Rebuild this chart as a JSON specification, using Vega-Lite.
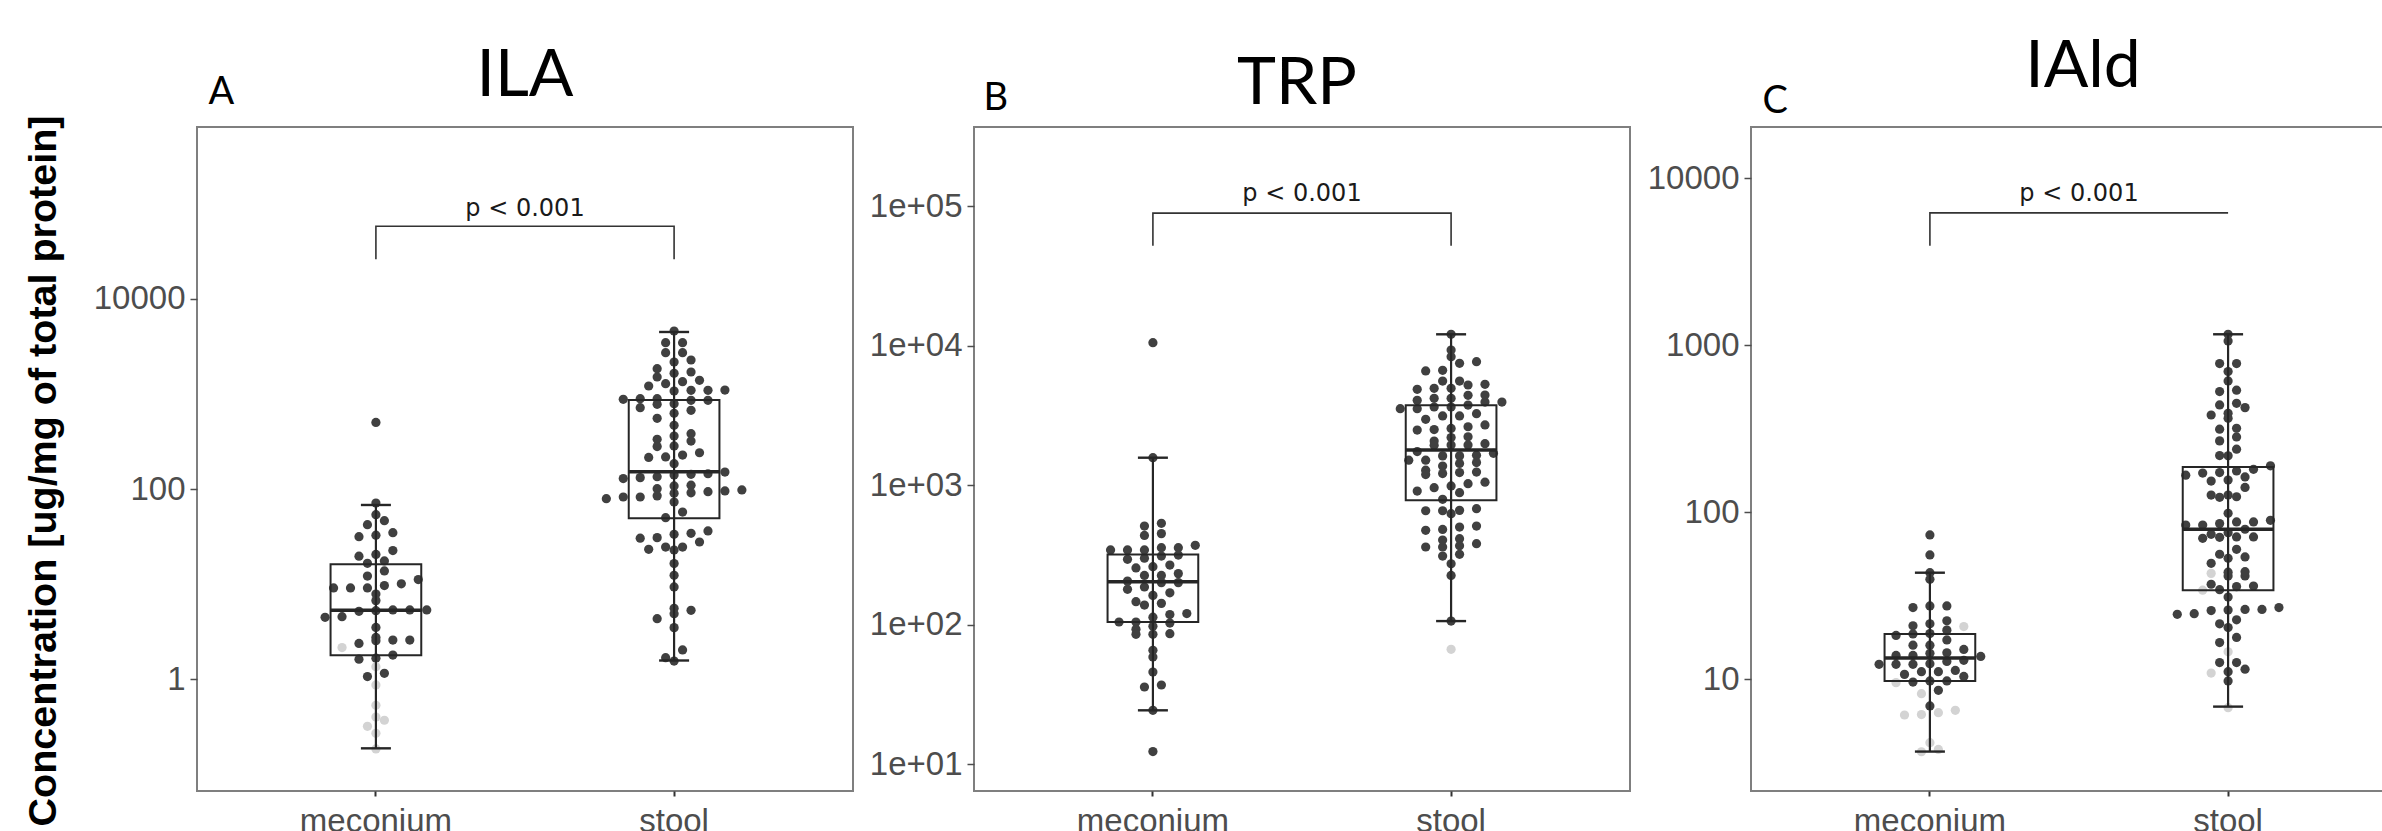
{
  "$schema": "https://vega.github.io/schema/vega-lite/v6.json",
  "background": "white",
  "padding": {"left": 21, "top": 33, "right": 0, "bottom": 0},
  "config": {
    "view": {"stroke": "#7f7f7f", "strokeWidth": 2},
    "axis": {"labelFont": "Liberation Sans", "labelFontSize": 33, "labelColor": "#4d4d4d", "grid": false, "domain": false},
    "axisY": {"tickSize": 7, "tickColor": "#4d4d4d", "tickWidth": 1.5, "labelPadding": 5},
    "axisX": {"tickSize": 5, "tickColor": "#333333", "tickWidth": 2, "labelPadding": 9, "labelAngle": 0},
    "title": {"font": "Lato", "fontSize": 66, "fontWeight": "normal", "color": "#000000", "baseline": "alphabetic"}
  },
  "datasets": {
    "dots": [
      {"panel": "ILA", "group": "meconium", "status": "detected", "value": 502},
      {"panel": "ILA", "group": "meconium", "status": "detected", "value": 71.3},
      {"panel": "ILA", "group": "meconium", "status": "detected", "value": 53.8},
      {"panel": "ILA", "group": "meconium", "status": "detected", "value": 46.6},
      {"panel": "ILA", "group": "meconium", "status": "detected", "value": 42.3},
      {"panel": "ILA", "group": "meconium", "status": "detected", "value": 34.8},
      {"panel": "ILA", "group": "meconium", "status": "detected", "value": 32.8},
      {"panel": "ILA", "group": "meconium", "status": "detected", "value": 31.6},
      {"panel": "ILA", "group": "meconium", "status": "detected", "value": 22.6},
      {"panel": "ILA", "group": "meconium", "status": "detected", "value": 20.6},
      {"panel": "ILA", "group": "meconium", "status": "detected", "value": 19.7},
      {"panel": "ILA", "group": "meconium", "status": "detected", "value": 17.6},
      {"panel": "ILA", "group": "meconium", "status": "detected", "value": 16.6},
      {"panel": "ILA", "group": "meconium", "status": "detected", "value": 13.8},
      {"panel": "ILA", "group": "meconium", "status": "detected", "value": 12.2},
      {"panel": "ILA", "group": "meconium", "status": "detected", "value": 11.2},
      {"panel": "ILA", "group": "meconium", "status": "detected", "value": 10.1},
      {"panel": "ILA", "group": "meconium", "status": "detected", "value": 9.68},
      {"panel": "ILA", "group": "meconium", "status": "detected", "value": 9.15},
      {"panel": "ILA", "group": "meconium", "status": "detected", "value": 9.15},
      {"panel": "ILA", "group": "meconium", "status": "detected", "value": 9.15},
      {"panel": "ILA", "group": "meconium", "status": "detected", "value": 7.9},
      {"panel": "ILA", "group": "meconium", "status": "detected", "value": 6.73},
      {"panel": "ILA", "group": "meconium", "status": "detected", "value": 5.37},
      {"panel": "ILA", "group": "meconium", "status": "detected", "value": 5.37},
      {"panel": "ILA", "group": "meconium", "status": "detected", "value": 5.37},
      {"panel": "ILA", "group": "meconium", "status": "detected", "value": 5.19},
      {"panel": "ILA", "group": "meconium", "status": "detected", "value": 5.27},
      {"panel": "ILA", "group": "meconium", "status": "detected", "value": 4.56},
      {"panel": "ILA", "group": "meconium", "status": "detected", "value": 4.49},
      {"panel": "ILA", "group": "meconium", "status": "detected", "value": 3.52},
      {"panel": "ILA", "group": "meconium", "status": "detected", "value": 2.76},
      {"panel": "ILA", "group": "meconium", "status": "detected", "value": 2.59},
      {"panel": "ILA", "group": "meconium", "status": "detected", "value": 2.59},
      {"panel": "ILA", "group": "meconium", "status": "detected", "value": 2.55},
      {"panel": "ILA", "group": "meconium", "status": "detected", "value": 2.39},
      {"panel": "ILA", "group": "meconium", "status": "detected", "value": 1.8},
      {"panel": "ILA", "group": "meconium", "status": "detected", "value": 1.67},
      {"panel": "ILA", "group": "meconium", "status": "detected", "value": 1.63},
      {"panel": "ILA", "group": "meconium", "status": "detected", "value": 1.16},
      {"panel": "ILA", "group": "meconium", "status": "detected", "value": 1.07},
      {"panel": "ILA", "group": "meconium", "status": "not detected", "value": 2.16},
      {"panel": "ILA", "group": "meconium", "status": "not detected", "value": 1.36},
      {"panel": "ILA", "group": "meconium", "status": "not detected", "value": 0.875},
      {"panel": "ILA", "group": "meconium", "status": "not detected", "value": 0.535},
      {"panel": "ILA", "group": "meconium", "status": "not detected", "value": 0.402},
      {"panel": "ILA", "group": "meconium", "status": "not detected", "value": 0.372},
      {"panel": "ILA", "group": "meconium", "status": "not detected", "value": 0.321},
      {"panel": "ILA", "group": "meconium", "status": "not detected", "value": 0.271},
      {"panel": "ILA", "group": "meconium", "status": "not detected", "value": 0.186},
      {"panel": "ILA", "group": "stool", "status": "detected", "value": 4588},
      {"panel": "ILA", "group": "stool", "status": "detected", "value": 3459},
      {"panel": "ILA", "group": "stool", "status": "detected", "value": 3459},
      {"panel": "ILA", "group": "stool", "status": "detected", "value": 2716},
      {"panel": "ILA", "group": "stool", "status": "detected", "value": 2716},
      {"panel": "ILA", "group": "stool", "status": "detected", "value": 2274},
      {"panel": "ILA", "group": "stool", "status": "detected", "value": 2167},
      {"panel": "ILA", "group": "stool", "status": "detected", "value": 1701},
      {"panel": "ILA", "group": "stool", "status": "detected", "value": 1647},
      {"panel": "ILA", "group": "stool", "status": "detected", "value": 1844},
      {"panel": "ILA", "group": "stool", "status": "detected", "value": 1346},
      {"panel": "ILA", "group": "stool", "status": "detected", "value": 1212},
      {"panel": "ILA", "group": "stool", "status": "detected", "value": 1390},
      {"panel": "ILA", "group": "stool", "status": "detected", "value": 1283},
      {"panel": "ILA", "group": "stool", "status": "detected", "value": 1507},
      {"panel": "ILA", "group": "stool", "status": "detected", "value": 1100},
      {"panel": "ILA", "group": "stool", "status": "detected", "value": 1092},
      {"panel": "ILA", "group": "stool", "status": "detected", "value": 1074},
      {"panel": "ILA", "group": "stool", "status": "detected", "value": 1092},
      {"panel": "ILA", "group": "stool", "status": "detected", "value": 892},
      {"panel": "ILA", "group": "stool", "status": "detected", "value": 857},
      {"panel": "ILA", "group": "stool", "status": "detected", "value": 857},
      {"panel": "ILA", "group": "stool", "status": "detected", "value": 790},
      {"panel": "ILA", "group": "stool", "status": "detected", "value": 879},
      {"panel": "ILA", "group": "stool", "status": "detected", "value": 892},
      {"panel": "ILA", "group": "stool", "status": "detected", "value": 717},
      {"panel": "ILA", "group": "stool", "status": "detected", "value": 626},
      {"panel": "ILA", "group": "stool", "status": "detected", "value": 673},
      {"panel": "ILA", "group": "stool", "status": "detected", "value": 778},
      {"panel": "ILA", "group": "stool", "status": "detected", "value": 554},
      {"panel": "ILA", "group": "stool", "status": "detected", "value": 468},
      {"panel": "ILA", "group": "stool", "status": "detected", "value": 382},
      {"panel": "ILA", "group": "stool", "status": "detected", "value": 361},
      {"panel": "ILA", "group": "stool", "status": "detected", "value": 334},
      {"panel": "ILA", "group": "stool", "status": "detected", "value": 320},
      {"panel": "ILA", "group": "stool", "status": "detected", "value": 284},
      {"panel": "ILA", "group": "stool", "status": "detected", "value": 280},
      {"panel": "ILA", "group": "stool", "status": "detected", "value": 228},
      {"panel": "ILA", "group": "stool", "status": "detected", "value": 218},
      {"panel": "ILA", "group": "stool", "status": "detected", "value": 185},
      {"panel": "ILA", "group": "stool", "status": "detected", "value": 215},
      {"panel": "ILA", "group": "stool", "status": "detected", "value": 241},
      {"panel": "ILA", "group": "stool", "status": "detected", "value": 145},
      {"panel": "ILA", "group": "stool", "status": "detected", "value": 135},
      {"panel": "ILA", "group": "stool", "status": "detected", "value": 132},
      {"panel": "ILA", "group": "stool", "status": "detected", "value": 141},
      {"panel": "ILA", "group": "stool", "status": "detected", "value": 129},
      {"panel": "ILA", "group": "stool", "status": "detected", "value": 143},
      {"panel": "ILA", "group": "stool", "status": "detected", "value": 151},
      {"panel": "ILA", "group": "stool", "status": "detected", "value": 110},
      {"panel": "ILA", "group": "stool", "status": "detected", "value": 97.9},
      {"panel": "ILA", "group": "stool", "status": "detected", "value": 108},
      {"panel": "ILA", "group": "stool", "status": "detected", "value": 101},
      {"panel": "ILA", "group": "stool", "status": "detected", "value": 94},
      {"panel": "ILA", "group": "stool", "status": "detected", "value": 90.3},
      {"panel": "ILA", "group": "stool", "status": "detected", "value": 82.6},
      {"panel": "ILA", "group": "stool", "status": "detected", "value": 82.6},
      {"panel": "ILA", "group": "stool", "status": "detected", "value": 73.2},
      {"panel": "ILA", "group": "stool", "status": "detected", "value": 79.3},
      {"panel": "ILA", "group": "stool", "status": "detected", "value": 84.9},
      {"panel": "ILA", "group": "stool", "status": "detected", "value": 91.5},
      {"panel": "ILA", "group": "stool", "status": "detected", "value": 95.6},
      {"panel": "ILA", "group": "stool", "status": "detected", "value": 57.4},
      {"panel": "ILA", "group": "stool", "status": "detected", "value": 50.1},
      {"panel": "ILA", "group": "stool", "status": "detected", "value": 30.9},
      {"panel": "ILA", "group": "stool", "status": "detected", "value": 24.6},
      {"panel": "ILA", "group": "stool", "status": "detected", "value": 33.5},
      {"panel": "ILA", "group": "stool", "status": "detected", "value": 30.5},
      {"panel": "ILA", "group": "stool", "status": "detected", "value": 34.3},
      {"panel": "ILA", "group": "stool", "status": "detected", "value": 24.6},
      {"panel": "ILA", "group": "stool", "status": "detected", "value": 27.8},
      {"panel": "ILA", "group": "stool", "status": "detected", "value": 36.3},
      {"panel": "ILA", "group": "stool", "status": "detected", "value": 23.3},
      {"panel": "ILA", "group": "stool", "status": "detected", "value": 22.9},
      {"panel": "ILA", "group": "stool", "status": "detected", "value": 16.5},
      {"panel": "ILA", "group": "stool", "status": "detected", "value": 12.4},
      {"panel": "ILA", "group": "stool", "status": "detected", "value": 9.36},
      {"panel": "ILA", "group": "stool", "status": "detected", "value": 5.32},
      {"panel": "ILA", "group": "stool", "status": "detected", "value": 4.91},
      {"panel": "ILA", "group": "stool", "status": "detected", "value": 4.35},
      {"panel": "ILA", "group": "stool", "status": "detected", "value": 5.58},
      {"panel": "ILA", "group": "stool", "status": "detected", "value": 3.5},
      {"panel": "ILA", "group": "stool", "status": "detected", "value": 2.04},
      {"panel": "ILA", "group": "stool", "status": "detected", "value": 1.56},
      {"panel": "ILA", "group": "stool", "status": "detected", "value": 1.69},
      {"panel": "TRP", "group": "meconium", "status": "detected", "value": 10490},
      {"panel": "TRP", "group": "meconium", "status": "detected", "value": 1573},
      {"panel": "TRP", "group": "meconium", "status": "detected", "value": 532},
      {"panel": "TRP", "group": "meconium", "status": "detected", "value": 509},
      {"panel": "TRP", "group": "meconium", "status": "detected", "value": 449},
      {"panel": "TRP", "group": "meconium", "status": "detected", "value": 436},
      {"panel": "TRP", "group": "meconium", "status": "detected", "value": 370},
      {"panel": "TRP", "group": "meconium", "status": "detected", "value": 356},
      {"panel": "TRP", "group": "meconium", "status": "detected", "value": 343},
      {"panel": "TRP", "group": "meconium", "status": "detected", "value": 356},
      {"panel": "TRP", "group": "meconium", "status": "detected", "value": 343},
      {"panel": "TRP", "group": "meconium", "status": "detected", "value": 343},
      {"panel": "TRP", "group": "meconium", "status": "detected", "value": 299},
      {"panel": "TRP", "group": "meconium", "status": "detected", "value": 310},
      {"panel": "TRP", "group": "meconium", "status": "detected", "value": 294},
      {"panel": "TRP", "group": "meconium", "status": "detected", "value": 315},
      {"panel": "TRP", "group": "meconium", "status": "detected", "value": 260},
      {"panel": "TRP", "group": "meconium", "status": "detected", "value": 255},
      {"panel": "TRP", "group": "meconium", "status": "detected", "value": 267},
      {"panel": "TRP", "group": "meconium", "status": "detected", "value": 225},
      {"panel": "TRP", "group": "meconium", "status": "detected", "value": 232},
      {"panel": "TRP", "group": "meconium", "status": "detected", "value": 225},
      {"panel": "TRP", "group": "meconium", "status": "detected", "value": 205},
      {"panel": "TRP", "group": "meconium", "status": "detected", "value": 186},
      {"panel": "TRP", "group": "meconium", "status": "detected", "value": 200},
      {"panel": "TRP", "group": "meconium", "status": "detected", "value": 200},
      {"panel": "TRP", "group": "meconium", "status": "detected", "value": 179},
      {"panel": "TRP", "group": "meconium", "status": "detected", "value": 162},
      {"panel": "TRP", "group": "meconium", "status": "detected", "value": 169},
      {"panel": "TRP", "group": "meconium", "status": "detected", "value": 142},
      {"panel": "TRP", "group": "meconium", "status": "detected", "value": 138},
      {"panel": "TRP", "group": "meconium", "status": "detected", "value": 146},
      {"panel": "TRP", "group": "meconium", "status": "detected", "value": 118},
      {"panel": "TRP", "group": "meconium", "status": "detected", "value": 120},
      {"panel": "TRP", "group": "meconium", "status": "detected", "value": 113},
      {"panel": "TRP", "group": "meconium", "status": "detected", "value": 104.4},
      {"panel": "TRP", "group": "meconium", "status": "detected", "value": 97.2},
      {"panel": "TRP", "group": "meconium", "status": "detected", "value": 102.6},
      {"panel": "TRP", "group": "meconium", "status": "detected", "value": 104.4},
      {"panel": "TRP", "group": "meconium", "status": "detected", "value": 92.5},
      {"panel": "TRP", "group": "meconium", "status": "detected", "value": 86.1},
      {"panel": "TRP", "group": "meconium", "status": "detected", "value": 85.2},
      {"panel": "TRP", "group": "meconium", "status": "detected", "value": 85.2},
      {"panel": "TRP", "group": "meconium", "status": "detected", "value": 65.4},
      {"panel": "TRP", "group": "meconium", "status": "detected", "value": 58.6},
      {"panel": "TRP", "group": "meconium", "status": "detected", "value": 45.7},
      {"panel": "TRP", "group": "meconium", "status": "detected", "value": 35.7},
      {"panel": "TRP", "group": "meconium", "status": "detected", "value": 36.9},
      {"panel": "TRP", "group": "meconium", "status": "detected", "value": 24.3},
      {"panel": "TRP", "group": "meconium", "status": "detected", "value": 12.3},
      {"panel": "TRP", "group": "stool", "status": "detected", "value": 12050},
      {"panel": "TRP", "group": "stool", "status": "detected", "value": 9300},
      {"panel": "TRP", "group": "stool", "status": "detected", "value": 8330},
      {"panel": "TRP", "group": "stool", "status": "detected", "value": 7460},
      {"panel": "TRP", "group": "stool", "status": "detected", "value": 7670},
      {"panel": "TRP", "group": "stool", "status": "detected", "value": 6580},
      {"panel": "TRP", "group": "stool", "status": "detected", "value": 6650},
      {"panel": "TRP", "group": "stool", "status": "detected", "value": 4940},
      {"panel": "TRP", "group": "stool", "status": "detected", "value": 4940},
      {"panel": "TRP", "group": "stool", "status": "detected", "value": 5220},
      {"panel": "TRP", "group": "stool", "status": "detected", "value": 4860},
      {"panel": "TRP", "group": "stool", "status": "detected", "value": 5280},
      {"panel": "TRP", "group": "stool", "status": "detected", "value": 5570},
      {"panel": "TRP", "group": "stool", "status": "detected", "value": 5570},
      {"panel": "TRP", "group": "stool", "status": "detected", "value": 4190},
      {"panel": "TRP", "group": "stool", "status": "detected", "value": 3940},
      {"panel": "TRP", "group": "stool", "status": "detected", "value": 4190},
      {"panel": "TRP", "group": "stool", "status": "detected", "value": 4400},
      {"panel": "TRP", "group": "stool", "status": "detected", "value": 4420},
      {"panel": "TRP", "group": "stool", "status": "detected", "value": 4050},
      {"panel": "TRP", "group": "stool", "status": "detected", "value": 3630},
      {"panel": "TRP", "group": "stool", "status": "detected", "value": 3530},
      {"panel": "TRP", "group": "stool", "status": "detected", "value": 3530},
      {"panel": "TRP", "group": "stool", "status": "detected", "value": 3750},
      {"panel": "TRP", "group": "stool", "status": "detected", "value": 3940},
      {"panel": "TRP", "group": "stool", "status": "detected", "value": 3630},
      {"panel": "TRP", "group": "stool", "status": "detected", "value": 2960},
      {"panel": "TRP", "group": "stool", "status": "detected", "value": 3130},
      {"panel": "TRP", "group": "stool", "status": "detected", "value": 3130},
      {"panel": "TRP", "group": "stool", "status": "detected", "value": 3250},
      {"panel": "TRP", "group": "stool", "status": "detected", "value": 2550},
      {"panel": "TRP", "group": "stool", "status": "detected", "value": 2620},
      {"panel": "TRP", "group": "stool", "status": "detected", "value": 2480},
      {"panel": "TRP", "group": "stool", "status": "detected", "value": 2500},
      {"panel": "TRP", "group": "stool", "status": "detected", "value": 2700},
      {"panel": "TRP", "group": "stool", "status": "detected", "value": 2220},
      {"panel": "TRP", "group": "stool", "status": "detected", "value": 2190},
      {"panel": "TRP", "group": "stool", "status": "detected", "value": 2070},
      {"panel": "TRP", "group": "stool", "status": "detected", "value": 1980},
      {"panel": "TRP", "group": "stool", "status": "detected", "value": 1930},
      {"panel": "TRP", "group": "stool", "status": "detected", "value": 1940},
      {"panel": "TRP", "group": "stool", "status": "detected", "value": 1940},
      {"panel": "TRP", "group": "stool", "status": "detected", "value": 1620},
      {"panel": "TRP", "group": "stool", "status": "detected", "value": 1640},
      {"panel": "TRP", "group": "stool", "status": "detected", "value": 1740},
      {"panel": "TRP", "group": "stool", "status": "detected", "value": 1510},
      {"panel": "TRP", "group": "stool", "status": "detected", "value": 1510},
      {"panel": "TRP", "group": "stool", "status": "detected", "value": 1620},
      {"panel": "TRP", "group": "stool", "status": "detected", "value": 1690},
      {"panel": "TRP", "group": "stool", "status": "detected", "value": 1370},
      {"panel": "TRP", "group": "stool", "status": "detected", "value": 1450},
      {"panel": "TRP", "group": "stool", "status": "detected", "value": 1430},
      {"panel": "TRP", "group": "stool", "status": "detected", "value": 1280},
      {"panel": "TRP", "group": "stool", "status": "detected", "value": 1230},
      {"panel": "TRP", "group": "stool", "status": "detected", "value": 1190},
      {"panel": "TRP", "group": "stool", "status": "detected", "value": 1210},
      {"panel": "TRP", "group": "stool", "status": "detected", "value": 1240},
      {"panel": "TRP", "group": "stool", "status": "detected", "value": 1050},
      {"panel": "TRP", "group": "stool", "status": "detected", "value": 959},
      {"panel": "TRP", "group": "stool", "status": "detected", "value": 907},
      {"panel": "TRP", "group": "stool", "status": "detected", "value": 1024},
      {"panel": "TRP", "group": "stool", "status": "detected", "value": 883},
      {"panel": "TRP", "group": "stool", "status": "detected", "value": 986},
      {"panel": "TRP", "group": "stool", "status": "detected", "value": 791},
      {"panel": "TRP", "group": "stool", "status": "detected", "value": 659},
      {"panel": "TRP", "group": "stool", "status": "detected", "value": 655},
      {"panel": "TRP", "group": "stool", "status": "detected", "value": 624},
      {"panel": "TRP", "group": "stool", "status": "detected", "value": 655},
      {"panel": "TRP", "group": "stool", "status": "detected", "value": 678},
      {"panel": "TRP", "group": "stool", "status": "detected", "value": 509},
      {"panel": "TRP", "group": "stool", "status": "detected", "value": 500},
      {"panel": "TRP", "group": "stool", "status": "detected", "value": 474},
      {"panel": "TRP", "group": "stool", "status": "detected", "value": 481},
      {"panel": "TRP", "group": "stool", "status": "detected", "value": 413},
      {"panel": "TRP", "group": "stool", "status": "detected", "value": 380},
      {"panel": "TRP", "group": "stool", "status": "detected", "value": 360},
      {"panel": "TRP", "group": "stool", "status": "detected", "value": 360},
      {"panel": "TRP", "group": "stool", "status": "detected", "value": 368},
      {"panel": "TRP", "group": "stool", "status": "detected", "value": 404},
      {"panel": "TRP", "group": "stool", "status": "detected", "value": 310},
      {"panel": "TRP", "group": "stool", "status": "detected", "value": 273},
      {"panel": "TRP", "group": "stool", "status": "detected", "value": 319},
      {"panel": "TRP", "group": "stool", "status": "detected", "value": 225},
      {"panel": "TRP", "group": "stool", "status": "detected", "value": 106},
      {"panel": "TRP", "group": "stool", "status": "not detected", "value": 66.5},
      {"panel": "IAld", "group": "meconium", "status": "detected", "value": 73.2},
      {"panel": "IAld", "group": "meconium", "status": "detected", "value": 55.6},
      {"panel": "IAld", "group": "meconium", "status": "detected", "value": 43.5},
      {"panel": "IAld", "group": "meconium", "status": "detected", "value": 39.7},
      {"panel": "IAld", "group": "meconium", "status": "detected", "value": 27.5},
      {"panel": "IAld", "group": "meconium", "status": "detected", "value": 26.9},
      {"panel": "IAld", "group": "meconium", "status": "detected", "value": 27.5},
      {"panel": "IAld", "group": "meconium", "status": "detected", "value": 22.4},
      {"panel": "IAld", "group": "meconium", "status": "detected", "value": 21.5},
      {"panel": "IAld", "group": "meconium", "status": "detected", "value": 20.9},
      {"panel": "IAld", "group": "meconium", "status": "detected", "value": 18.8},
      {"panel": "IAld", "group": "meconium", "status": "detected", "value": 18.7},
      {"panel": "IAld", "group": "meconium", "status": "detected", "value": 18.3},
      {"panel": "IAld", "group": "meconium", "status": "detected", "value": 19.7},
      {"panel": "IAld", "group": "meconium", "status": "detected", "value": 16.0},
      {"panel": "IAld", "group": "meconium", "status": "detected", "value": 16.0},
      {"panel": "IAld", "group": "meconium", "status": "detected", "value": 17.2},
      {"panel": "IAld", "group": "meconium", "status": "detected", "value": 15.1},
      {"panel": "IAld", "group": "meconium", "status": "detected", "value": 14.3},
      {"panel": "IAld", "group": "meconium", "status": "detected", "value": 12.8},
      {"panel": "IAld", "group": "meconium", "status": "detected", "value": 13.0},
      {"panel": "IAld", "group": "meconium", "status": "detected", "value": 13.7},
      {"panel": "IAld", "group": "meconium", "status": "detected", "value": 14.4},
      {"panel": "IAld", "group": "meconium", "status": "detected", "value": 13.9},
      {"panel": "IAld", "group": "meconium", "status": "detected", "value": 13.9},
      {"panel": "IAld", "group": "meconium", "status": "detected", "value": 11.1},
      {"panel": "IAld", "group": "meconium", "status": "detected", "value": 12.3},
      {"panel": "IAld", "group": "meconium", "status": "detected", "value": 12.3},
      {"panel": "IAld", "group": "meconium", "status": "detected", "value": 12.3},
      {"panel": "IAld", "group": "meconium", "status": "detected", "value": 12.4},
      {"panel": "IAld", "group": "meconium", "status": "detected", "value": 11.3},
      {"panel": "IAld", "group": "meconium", "status": "detected", "value": 10.4},
      {"panel": "IAld", "group": "meconium", "status": "detected", "value": 10.7},
      {"panel": "IAld", "group": "meconium", "status": "detected", "value": 11.1},
      {"panel": "IAld", "group": "meconium", "status": "detected", "value": 9.77},
      {"panel": "IAld", "group": "meconium", "status": "detected", "value": 9.63},
      {"panel": "IAld", "group": "meconium", "status": "detected", "value": 9.77},
      {"panel": "IAld", "group": "meconium", "status": "detected", "value": 8.59},
      {"panel": "IAld", "group": "meconium", "status": "detected", "value": 6.92},
      {"panel": "IAld", "group": "meconium", "status": "not detected", "value": 20.7},
      {"panel": "IAld", "group": "meconium", "status": "not detected", "value": 9.55},
      {"panel": "IAld", "group": "meconium", "status": "not detected", "value": 8.2},
      {"panel": "IAld", "group": "meconium", "status": "not detected", "value": 6.31},
      {"panel": "IAld", "group": "meconium", "status": "not detected", "value": 6.11},
      {"panel": "IAld", "group": "meconium", "status": "not detected", "value": 6.15},
      {"panel": "IAld", "group": "meconium", "status": "not detected", "value": 6.52},
      {"panel": "IAld", "group": "meconium", "status": "not detected", "value": 4.17},
      {"panel": "IAld", "group": "meconium", "status": "not detected", "value": 3.68},
      {"panel": "IAld", "group": "meconium", "status": "not detected", "value": 3.8},
      {"panel": "IAld", "group": "stool", "status": "detected", "value": 1166},
      {"panel": "IAld", "group": "stool", "status": "detected", "value": 1064},
      {"panel": "IAld", "group": "stool", "status": "detected", "value": 778},
      {"panel": "IAld", "group": "stool", "status": "detected", "value": 778},
      {"panel": "IAld", "group": "stool", "status": "detected", "value": 697},
      {"panel": "IAld", "group": "stool", "status": "detected", "value": 613},
      {"panel": "IAld", "group": "stool", "status": "detected", "value": 539},
      {"panel": "IAld", "group": "stool", "status": "detected", "value": 529},
      {"panel": "IAld", "group": "stool", "status": "detected", "value": 450},
      {"panel": "IAld", "group": "stool", "status": "detected", "value": 424},
      {"panel": "IAld", "group": "stool", "status": "detected", "value": 440},
      {"panel": "IAld", "group": "stool", "status": "detected", "value": 392},
      {"panel": "IAld", "group": "stool", "status": "detected", "value": 383},
      {"panel": "IAld", "group": "stool", "status": "detected", "value": 366},
      {"panel": "IAld", "group": "stool", "status": "detected", "value": 319},
      {"panel": "IAld", "group": "stool", "status": "detected", "value": 315},
      {"panel": "IAld", "group": "stool", "status": "detected", "value": 268},
      {"panel": "IAld", "group": "stool", "status": "detected", "value": 283},
      {"panel": "IAld", "group": "stool", "status": "detected", "value": 239},
      {"panel": "IAld", "group": "stool", "status": "detected", "value": 218},
      {"panel": "IAld", "group": "stool", "status": "detected", "value": 219},
      {"panel": "IAld", "group": "stool", "status": "detected", "value": 190},
      {"panel": "IAld", "group": "stool", "status": "detected", "value": 173},
      {"panel": "IAld", "group": "stool", "status": "detected", "value": 181},
      {"panel": "IAld", "group": "stool", "status": "detected", "value": 177},
      {"panel": "IAld", "group": "stool", "status": "detected", "value": 172},
      {"panel": "IAld", "group": "stool", "status": "detected", "value": 167},
      {"panel": "IAld", "group": "stool", "status": "detected", "value": 156},
      {"panel": "IAld", "group": "stool", "status": "detected", "value": 154},
      {"panel": "IAld", "group": "stool", "status": "detected", "value": 163},
      {"panel": "IAld", "group": "stool", "status": "detected", "value": 141},
      {"panel": "IAld", "group": "stool", "status": "detected", "value": 127},
      {"panel": "IAld", "group": "stool", "status": "detected", "value": 127},
      {"panel": "IAld", "group": "stool", "status": "detected", "value": 123},
      {"panel": "IAld", "group": "stool", "status": "detected", "value": 124},
      {"panel": "IAld", "group": "stool", "status": "detected", "value": 98.7},
      {"panel": "IAld", "group": "stool", "status": "detected", "value": 89.6},
      {"panel": "IAld", "group": "stool", "status": "detected", "value": 85.6},
      {"panel": "IAld", "group": "stool", "status": "detected", "value": 87.6},
      {"panel": "IAld", "group": "stool", "status": "detected", "value": 84},
      {"panel": "IAld", "group": "stool", "status": "detected", "value": 84},
      {"panel": "IAld", "group": "stool", "status": "detected", "value": 87.6},
      {"panel": "IAld", "group": "stool", "status": "detected", "value": 79.2},
      {"panel": "IAld", "group": "stool", "status": "detected", "value": 75.6},
      {"panel": "IAld", "group": "stool", "status": "detected", "value": 71.2},
      {"panel": "IAld", "group": "stool", "status": "detected", "value": 70.9},
      {"panel": "IAld", "group": "stool", "status": "detected", "value": 73.9},
      {"panel": "IAld", "group": "stool", "status": "detected", "value": 69.9},
      {"panel": "IAld", "group": "stool", "status": "detected", "value": 71.2},
      {"panel": "IAld", "group": "stool", "status": "detected", "value": 60.1},
      {"panel": "IAld", "group": "stool", "status": "detected", "value": 56.1},
      {"panel": "IAld", "group": "stool", "status": "detected", "value": 54.1},
      {"panel": "IAld", "group": "stool", "status": "detected", "value": 53.1},
      {"panel": "IAld", "group": "stool", "status": "detected", "value": 49.5},
      {"panel": "IAld", "group": "stool", "status": "detected", "value": 41.6},
      {"panel": "IAld", "group": "stool", "status": "detected", "value": 41.6},
      {"panel": "IAld", "group": "stool", "status": "detected", "value": 43.8},
      {"panel": "IAld", "group": "stool", "status": "detected", "value": 44.1},
      {"panel": "IAld", "group": "stool", "status": "detected", "value": 36.2},
      {"panel": "IAld", "group": "stool", "status": "detected", "value": 34.4},
      {"panel": "IAld", "group": "stool", "status": "detected", "value": 35.9},
      {"panel": "IAld", "group": "stool", "status": "detected", "value": 37.1},
      {"panel": "IAld", "group": "stool", "status": "detected", "value": 31.1},
      {"panel": "IAld", "group": "stool", "status": "detected", "value": 26.9},
      {"panel": "IAld", "group": "stool", "status": "detected", "value": 26},
      {"panel": "IAld", "group": "stool", "status": "detected", "value": 25.8},
      {"panel": "IAld", "group": "stool", "status": "detected", "value": 26.2},
      {"panel": "IAld", "group": "stool", "status": "detected", "value": 26.2},
      {"panel": "IAld", "group": "stool", "status": "detected", "value": 24.7},
      {"panel": "IAld", "group": "stool", "status": "detected", "value": 22.7},
      {"panel": "IAld", "group": "stool", "status": "detected", "value": 24.5},
      {"panel": "IAld", "group": "stool", "status": "detected", "value": 21.5},
      {"panel": "IAld", "group": "stool", "status": "detected", "value": 20.4},
      {"panel": "IAld", "group": "stool", "status": "detected", "value": 16.6},
      {"panel": "IAld", "group": "stool", "status": "detected", "value": 17.8},
      {"panel": "IAld", "group": "stool", "status": "detected", "value": 11.5},
      {"panel": "IAld", "group": "stool", "status": "detected", "value": 11.1},
      {"panel": "IAld", "group": "stool", "status": "detected", "value": 12.6},
      {"panel": "IAld", "group": "stool", "status": "detected", "value": 12.6},
      {"panel": "IAld", "group": "stool", "status": "detected", "value": 9.77},
      {"panel": "IAld", "group": "stool", "status": "not detected", "value": 43.1},
      {"panel": "IAld", "group": "stool", "status": "not detected", "value": 34.2},
      {"panel": "IAld", "group": "stool", "status": "not detected", "value": 14.6},
      {"panel": "IAld", "group": "stool", "status": "not detected", "value": 10.9},
      {"panel": "IAld", "group": "stool", "status": "not detected", "value": 6.76}
    ],
    "box": [
      {"panel": "ILA", "group": "meconium", "lo": 0.1886, "q1": 1.79, "med": 5.32, "q3": 16.2, "hi": 68.1},
      {"panel": "ILA", "group": "stool", "lo": 1.58, "q1": 49.3, "med": 152.5, "q3": 864, "hi": 4480},
      {"panel": "TRP", "group": "meconium", "lo": 24.3, "q1": 104.5, "med": 203, "q3": 318, "hi": 1572},
      {"panel": "TRP", "group": "stool", "lo": 106, "q1": 778, "med": 1785, "q3": 3730, "hi": 12050},
      {"panel": "IAld", "group": "meconium", "lo": 3.69, "q1": 9.77, "med": 13.4, "q3": 18.7, "hi": 43.5},
      {"panel": "IAld", "group": "stool", "lo": 6.86, "q1": 34.2, "med": 79.2, "q3": 187, "hi": 1166}
    ],
    "bracket": [
      {"panel": "ILA", "group": "meconium", "value": 26100, "step": 1},
      {"panel": "ILA", "group": "meconium", "value": 57900, "step": 2},
      {"panel": "ILA", "group": "stool", "value": 57900, "step": 3},
      {"panel": "ILA", "group": "stool", "value": 26100, "step": 4},
      {"panel": "TRP", "group": "meconium", "value": 51900, "step": 1},
      {"panel": "TRP", "group": "meconium", "value": 89100, "step": 2},
      {"panel": "TRP", "group": "stool", "value": 89100, "step": 3},
      {"panel": "TRP", "group": "stool", "value": 51900, "step": 4},
      {"panel": "IAld", "group": "meconium", "value": 3955, "step": 1},
      {"panel": "IAld", "group": "meconium", "value": 6220, "step": 2},
      {"panel": "IAld", "group": "stool", "value": 6220, "step": 3}
    ],
    "pval": [
      {"panel": "ILA", "label": "p < 0.001", "value": 74800},
      {"panel": "TRP", "label": "p < 0.001", "value": 108000},
      {"panel": "IAld", "label": "p < 0.001", "value": 7310}
    ]
  },
  "bounds": "flush",
  "spacing": 121,
  "hconcat": [
    {
      "width": 656,
      "height": 664,
      "title": {"text": "ILA", "offset": -36},
      "layer": [
        {
          "data": {"name": "dots"},
          "transform": [
            {"filter": "datum.panel === 'ILA'"},
            {"calculate": "log(datum.value) / LN10", "as": "lv"},
            {"bin": {"step": 0.105}, "field": "lv", "as": "lvbin"},
            {"window": [{"op": "row_number", "as": "rn"}, {"op": "count", "as": "n"}], "groupby": ["group", "lvbin"], "sort": [{"field": "value", "order": "ascending"}], "frame": [null, null]},
            {"calculate": "datum.rn - (datum.n + 1) / 2", "as": "slot"}
          ],
          "mark": {"type": "point", "filled": true, "size": 85, "opacity": 1, "strokeWidth": 0},
          "encoding": {
            "x": {"field": "group", "type": "nominal", "scale": {"type": "band", "domain": ["meconium", "stool"], "paddingInner": 0, "paddingOuter": 0.1},
              "axis": {"title": "A", "titleFont": "Lato", "titleFontSize": 38, "titleFontWeight": "normal", "titleColor": "#000000", "titleX": 11, "titleY": -687.3, "titleAlign": "left", "titleBaseline": "alphabetic", "titleAngle": 0}},
            "xOffset": {"field": "slot", "type": "quantitative", "scale": {"domain": [-8.8, 8.8], "range": [0, 298.2]}},
            "y": {"field": "value", "type": "quantitative", "scale": {"type": "log", "domain": [0.06716, 639200], "nice": false},
              "axis": {"values": [1, 100, 10000], "format": "d", "title": "Concentration [ug/mg of total protein]", "titleFont": "Liberation Sans", "titleFontSize": 39.5, "titleFontWeight": "bold", "titleColor": "#000000", "titleX": -142, "titleY": 343.5, "titleAlign": "center", "titleBaseline": "alphabetic", "titleAngle": 270}},
            "color": {"field": "status", "type": "nominal", "scale": {"domain": ["detected", "not detected"], "range": ["#404040", "#d3d3d3"]}, "legend": null}
          }
        },
        {
          "data": {"name": "box"},
          "transform": [{"filter": "datum.panel === 'ILA'"}],
          "mark": {"type": "rule", "color": "#262626", "strokeWidth": 2.2},
          "encoding": {
            "x": {"field": "group", "type": "nominal"},
            "y": {"field": "lo", "type": "quantitative"},
            "y2": {"field": "hi"}
          }
        },
        {
          "data": {"name": "box"},
          "transform": [{"filter": "datum.panel === 'ILA'"}],
          "mark": {"type": "bar", "width": 90.7, "color": "#262626", "fillOpacity": 0, "stroke": "#262626", "strokeWidth": 2},
          "encoding": {
            "x": {"field": "group", "type": "nominal"},
            "y": {"field": "q1", "type": "quantitative"},
            "y2": {"field": "q3"}
          }
        },
        {
          "data": {"name": "box"},
          "transform": [{"filter": "datum.panel === 'ILA'"}],
          "mark": {"type": "tick", "orient": "horizontal", "size": 90.7, "thickness": 3.5, "color": "#262626", "opacity": 1},
          "encoding": {
            "x": {"field": "group", "type": "nominal"},
            "y": {"field": "med", "type": "quantitative"}
          }
        },
        {
          "data": {"name": "box"},
          "transform": [{"filter": "datum.panel === 'ILA'"}],
          "mark": {"type": "tick", "orient": "horizontal", "size": 30, "thickness": 2.4, "color": "#262626", "opacity": 1},
          "encoding": {
            "x": {"field": "group", "type": "nominal"},
            "y": {"field": "lo", "type": "quantitative"}
          }
        },
        {
          "data": {"name": "box"},
          "transform": [{"filter": "datum.panel === 'ILA'"}],
          "mark": {"type": "tick", "orient": "horizontal", "size": 30, "thickness": 2.4, "color": "#262626", "opacity": 1},
          "encoding": {
            "x": {"field": "group", "type": "nominal"},
            "y": {"field": "hi", "type": "quantitative"}
          }
        },
        {
          "data": {"name": "bracket"},
          "transform": [{"filter": "datum.panel === 'ILA'"}],
          "mark": {"type": "line", "color": "#333333", "strokeWidth": 1.6, "interpolate": "linear"},
          "encoding": {
            "x": {"field": "group", "type": "nominal"},
            "y": {"field": "value", "type": "quantitative"},
            "order": {"field": "step", "type": "quantitative"}
          }
        },
        {
          "data": {"name": "pval"},
          "transform": [{"filter": "datum.panel === 'ILA'"}],
          "mark": {"type": "text", "font": "DejaVu Sans", "fontSize": 24, "baseline": "alphabetic", "align": "center", "color": "#1a1a1a"},
          "encoding": {
            "x": {"datum": "stool", "type": "nominal", "bandPosition": 0},
            "y": {"field": "value", "type": "quantitative"},
            "text": {"field": "label"}
          }
        }
      ]
    },
    {
      "width": 656,
      "height": 664,
      "title": {"text": "TRP", "offset": -38, "dx": -5},
      "layer": [
        {
          "data": {"name": "dots"},
          "transform": [
            {"filter": "datum.panel === 'TRP'"},
            {"calculate": "log(datum.value) / LN10", "as": "lv"},
            {"bin": {"step": 0.072}, "field": "lv", "as": "lvbin"},
            {"window": [{"op": "row_number", "as": "rn"}, {"op": "count", "as": "n"}], "groupby": ["group", "lvbin"], "sort": [{"field": "value", "order": "ascending"}], "frame": [null, null]},
            {"calculate": "datum.rn - (datum.n + 1) / 2", "as": "slot"}
          ],
          "mark": {"type": "point", "filled": true, "size": 85, "opacity": 1, "strokeWidth": 0},
          "encoding": {
            "x": {"field": "group", "type": "nominal", "scale": {"type": "band", "domain": ["meconium", "stool"], "paddingInner": 0, "paddingOuter": 0.1},
              "axis": {"title": "B", "titleFont": "Lato", "titleFontSize": 38, "titleFontWeight": "normal", "titleColor": "#000000", "titleX": 9, "titleY": -681.4, "titleAlign": "left", "titleBaseline": "alphabetic", "titleAngle": 0}},
            "xOffset": {"field": "slot", "type": "quantitative", "scale": {"domain": [-8.8, 8.8], "range": [0, 298.2]}},
            "y": {"field": "value", "type": "quantitative", "scale": {"type": "log", "domain": [6.416, 369000], "nice": false},
              "axis": {"values": [10, 100, 1000, 10000, 100000], "labelExpr": "'1e+0' + round(log(datum.value) / LN10)", "title": null}},
            "color": {"field": "status", "type": "nominal", "scale": {"domain": ["detected", "not detected"], "range": ["#404040", "#d3d3d3"]}, "legend": null}
          }
        },
        {
          "data": {"name": "box"},
          "transform": [{"filter": "datum.panel === 'TRP'"}],
          "mark": {"type": "rule", "color": "#262626", "strokeWidth": 2.2},
          "encoding": {
            "x": {"field": "group", "type": "nominal"},
            "y": {"field": "lo", "type": "quantitative"},
            "y2": {"field": "hi"}
          }
        },
        {
          "data": {"name": "box"},
          "transform": [{"filter": "datum.panel === 'TRP'"}],
          "mark": {"type": "bar", "width": 90.7, "color": "#262626", "fillOpacity": 0, "stroke": "#262626", "strokeWidth": 2},
          "encoding": {
            "x": {"field": "group", "type": "nominal"},
            "y": {"field": "q1", "type": "quantitative"},
            "y2": {"field": "q3"}
          }
        },
        {
          "data": {"name": "box"},
          "transform": [{"filter": "datum.panel === 'TRP'"}],
          "mark": {"type": "tick", "orient": "horizontal", "size": 90.7, "thickness": 3.5, "color": "#262626", "opacity": 1},
          "encoding": {
            "x": {"field": "group", "type": "nominal"},
            "y": {"field": "med", "type": "quantitative"}
          }
        },
        {
          "data": {"name": "box"},
          "transform": [{"filter": "datum.panel === 'TRP'"}],
          "mark": {"type": "tick", "orient": "horizontal", "size": 30, "thickness": 2.4, "color": "#262626", "opacity": 1},
          "encoding": {
            "x": {"field": "group", "type": "nominal"},
            "y": {"field": "lo", "type": "quantitative"}
          }
        },
        {
          "data": {"name": "box"},
          "transform": [{"filter": "datum.panel === 'TRP'"}],
          "mark": {"type": "tick", "orient": "horizontal", "size": 30, "thickness": 2.4, "color": "#262626", "opacity": 1},
          "encoding": {
            "x": {"field": "group", "type": "nominal"},
            "y": {"field": "hi", "type": "quantitative"}
          }
        },
        {
          "data": {"name": "bracket"},
          "transform": [{"filter": "datum.panel === 'TRP'"}],
          "mark": {"type": "line", "color": "#333333", "strokeWidth": 1.6, "interpolate": "linear"},
          "encoding": {
            "x": {"field": "group", "type": "nominal"},
            "y": {"field": "value", "type": "quantitative"},
            "order": {"field": "step", "type": "quantitative"}
          }
        },
        {
          "data": {"name": "pval"},
          "transform": [{"filter": "datum.panel === 'TRP'"}],
          "mark": {"type": "text", "font": "DejaVu Sans", "fontSize": 24, "baseline": "alphabetic", "align": "center", "color": "#1a1a1a"},
          "encoding": {
            "x": {"datum": "stool", "type": "nominal", "bandPosition": 0},
            "y": {"field": "value", "type": "quantitative"},
            "text": {"field": "label"}
          }
        }
      ]
    },
    {
      "width": 640,
      "height": 664,
      "title": {"text": "IAld", "offset": -19, "dx": 12},
      "layer": [
        {
          "data": {"name": "dots"},
          "transform": [
            {"filter": "datum.panel === 'IAld'"},
            {"calculate": "log(datum.value) / LN10", "as": "lv"},
            {"bin": {"step": 0.06}, "field": "lv", "as": "lvbin"},
            {"window": [{"op": "row_number", "as": "rn"}, {"op": "count", "as": "n"}], "groupby": ["group", "lvbin"], "sort": [{"field": "value", "order": "ascending"}], "frame": [null, null]},
            {"calculate": "datum.rn - (datum.n + 1) / 2", "as": "slot"}
          ],
          "mark": {"type": "point", "filled": true, "size": 85, "opacity": 1, "strokeWidth": 0},
          "encoding": {
            "x": {"field": "group", "type": "nominal", "scale": {"type": "band", "domain": ["meconium", "stool"], "paddingInner": 0, "paddingOuter": 0.1, "range": [0, 656]},
              "axis": {"title": "C", "titleFont": "Lato", "titleFontSize": 38, "titleFontWeight": "normal", "titleColor": "#000000", "titleX": 11, "titleY": -678.7, "titleAlign": "left", "titleBaseline": "alphabetic", "titleAngle": 0}},
            "xOffset": {"field": "slot", "type": "quantitative", "scale": {"domain": [-8.8, 8.8], "range": [0, 298.2]}},
            "y": {"field": "value", "type": "quantitative", "scale": {"type": "log", "domain": [2.142, 20340], "nice": false},
              "axis": {"values": [10, 100, 1000, 10000], "format": "d", "title": null}},
            "color": {"field": "status", "type": "nominal", "scale": {"domain": ["detected", "not detected"], "range": ["#404040", "#d3d3d3"]}, "legend": null}
          }
        },
        {
          "data": {"name": "box"},
          "transform": [{"filter": "datum.panel === 'IAld'"}],
          "mark": {"type": "rule", "color": "#262626", "strokeWidth": 2.2},
          "encoding": {
            "x": {"field": "group", "type": "nominal"},
            "y": {"field": "lo", "type": "quantitative"},
            "y2": {"field": "hi"}
          }
        },
        {
          "data": {"name": "box"},
          "transform": [{"filter": "datum.panel === 'IAld'"}],
          "mark": {"type": "bar", "width": 90.7, "color": "#262626", "fillOpacity": 0, "stroke": "#262626", "strokeWidth": 2},
          "encoding": {
            "x": {"field": "group", "type": "nominal"},
            "y": {"field": "q1", "type": "quantitative"},
            "y2": {"field": "q3"}
          }
        },
        {
          "data": {"name": "box"},
          "transform": [{"filter": "datum.panel === 'IAld'"}],
          "mark": {"type": "tick", "orient": "horizontal", "size": 90.7, "thickness": 3.5, "color": "#262626", "opacity": 1},
          "encoding": {
            "x": {"field": "group", "type": "nominal"},
            "y": {"field": "med", "type": "quantitative"}
          }
        },
        {
          "data": {"name": "box"},
          "transform": [{"filter": "datum.panel === 'IAld'"}],
          "mark": {"type": "tick", "orient": "horizontal", "size": 30, "thickness": 2.4, "color": "#262626", "opacity": 1},
          "encoding": {
            "x": {"field": "group", "type": "nominal"},
            "y": {"field": "lo", "type": "quantitative"}
          }
        },
        {
          "data": {"name": "box"},
          "transform": [{"filter": "datum.panel === 'IAld'"}],
          "mark": {"type": "tick", "orient": "horizontal", "size": 30, "thickness": 2.4, "color": "#262626", "opacity": 1},
          "encoding": {
            "x": {"field": "group", "type": "nominal"},
            "y": {"field": "hi", "type": "quantitative"}
          }
        },
        {
          "data": {"name": "bracket"},
          "transform": [{"filter": "datum.panel === 'IAld'"}],
          "mark": {"type": "line", "color": "#333333", "strokeWidth": 1.6, "interpolate": "linear"},
          "encoding": {
            "x": {"field": "group", "type": "nominal"},
            "y": {"field": "value", "type": "quantitative"},
            "order": {"field": "step", "type": "quantitative"}
          }
        },
        {
          "data": {"name": "pval"},
          "transform": [{"filter": "datum.panel === 'IAld'"}],
          "mark": {"type": "text", "font": "DejaVu Sans", "fontSize": 24, "baseline": "alphabetic", "align": "center", "color": "#1a1a1a"},
          "encoding": {
            "x": {"datum": "stool", "type": "nominal", "bandPosition": 0},
            "y": {"field": "value", "type": "quantitative"},
            "text": {"field": "label"}
          }
        }
      ]
    }
  ]
}
